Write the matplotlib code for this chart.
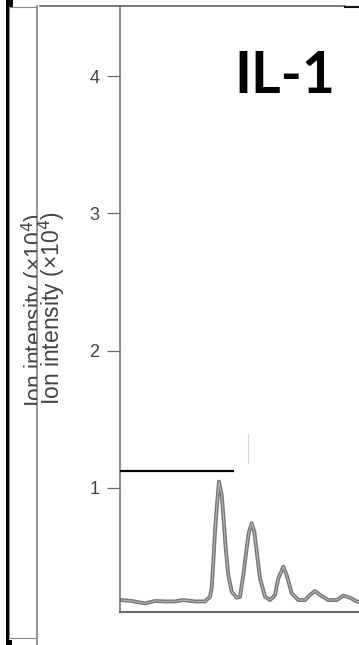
import matplotlib
matplotlib.use("Agg")
import matplotlib.pyplot as plt
from matplotlib.patches import Rectangle
from matplotlib.lines import Line2D
from matplotlib.transforms import Bbox, TransformedBbox

# chromatogram trace (retention time, arbitrary units ; intensity x1e4)
rt = [0.17, 1.17, 2.5, 3.5, 4.5, 5.5, 6.33, 7.5, 8.5, 9.0, 9.17, 9.33, 9.5,
      9.67, 9.9, 10.17, 10.33, 10.57, 10.83, 11.17, 11.67, 12.0, 12.33, 12.67,
      12.9, 13.17, 13.43, 13.67, 14.0, 14.5, 15.0, 15.5, 15.83, 16.33, 16.67,
      17.17, 17.83, 18.5, 19.0, 19.5, 20.0, 20.83, 21.67, 22.33, 23.0, 23.67, 24.0]
intensity = [0.184, 0.177, 0.160, 0.177, 0.174, 0.174, 0.184, 0.174, 0.174, 0.208,
             0.272, 0.463, 0.682, 0.854, 1.046, 0.949, 0.803, 0.563, 0.366, 0.245,
             0.201, 0.208, 0.366, 0.563, 0.682, 0.743, 0.682, 0.536, 0.342, 0.208,
             0.184, 0.221, 0.342, 0.427, 0.366, 0.233, 0.184, 0.184, 0.221, 0.250,
             0.221, 0.184, 0.184, 0.216, 0.201, 0.174, 0.170]

ref_level = 1.124
ref_span = [0.0, 11.3]

yticks = [1, 2, 3, 4]
ylabel = "Ion intensity (\u00d710$^4$)"
title = "IL-1"

W, H = 359, 645
fig = plt.figure(figsize=(W / 100, H / 100), dpi=100)

ax = fig.add_axes([120 / W, 1 - 612 / H, 239 / W, 606 / H])
ax.plot(rt, intensity, color="#767676", lw=2.8, solid_joinstyle="round", zorder=3)
ax.plot(rt, intensity, color="#b5b5b5", lw=0.8, zorder=4)
ax.plot(ref_span, [ref_level, ref_level], color="black", lw=1.6, zorder=5)
ax.plot([12.75, 12.75], [1.18, 1.39], color="#d8d8d8", lw=0.8, zorder=2)

ax.set_xlim(0, 23.9)
ax.set_ylim(0.097, 4.51)
ax.set_yticks(yticks)
ax.set_yticklabels([str(t) for t in yticks])
ax.set_xticks([])
for s in ["top", "right"]:
    ax.spines[s].set_visible(False)
ax.spines["left"].set_color("#6b6b6b")
ax.spines["left"].set_linewidth(1.1)
ax.spines["bottom"].set_color("#6b6b6b")
ax.spines["bottom"].set_linewidth(1.5)
ax.tick_params(axis="y", direction="out", length=9.5, width=0.9, color="#6b6b6b",
               pad=5.5, labelsize=13, labelcolor="#444444")
for lab in ax.get_yticklabels():
    lab.set_family("Liberation Sans")

# overlay in pixel coordinates for the scanned frame pieces
ov = fig.add_axes([0, 0, 1, 1])
ov.set_xlim(0, W)
ov.set_ylim(H, 0)
ov.axis("off")
ov.patch.set_alpha(0)

ov.add_patch(Rectangle((6, 0), 3, 640, color="black", lw=0))
ov.add_patch(Rectangle((6, 0), 7, 6.5, color="black", lw=0))
ov.add_patch(Rectangle((6, 639.5), 6, 6, color="black", lw=0))
ov.add_line(Line2D([9, 9], [6.5, 638], color="#8a8a8a", lw=0.8))
ov.add_line(Line2D([9, 37], [6.5, 6.5], color="#8a8a8a", lw=0.8))
ov.add_line(Line2D([9, 37], [638, 638], color="#8a8a8a", lw=0.8))
ov.add_line(Line2D([37, 37], [6, 645], color="#777777", lw=1.1))
ov.add_line(Line2D([40, 345], [5.5, 5.5], color="#555555", lw=1.1))
ov.add_line(Line2D([345, 359], [6.5, 6.5], color="#111111", lw=1.5))

# first y label is cut by the panel edge at x=37, second one is complete
t1 = ov.text(50, 310, ylabel, rotation=90, ha="right", va="center", fontsize=16.5,
             family="Liberation Sans", color="#444444", clip_on=True)
t1.set_clip_box(TransformedBbox(Bbox.from_bounds(0, 0, 36.5 / W, 1), fig.transFigure))
ov.text(67, 308, ylabel, rotation=90, ha="right", va="center", fontsize=16.5,
        family="Liberation Sans", color="#444444")

ov.text(285, 93, title, ha="center", va="baseline", fontsize=41, fontweight="bold",
        family="Lato", color="black")

fig.savefig("out.png", dpi=100)
